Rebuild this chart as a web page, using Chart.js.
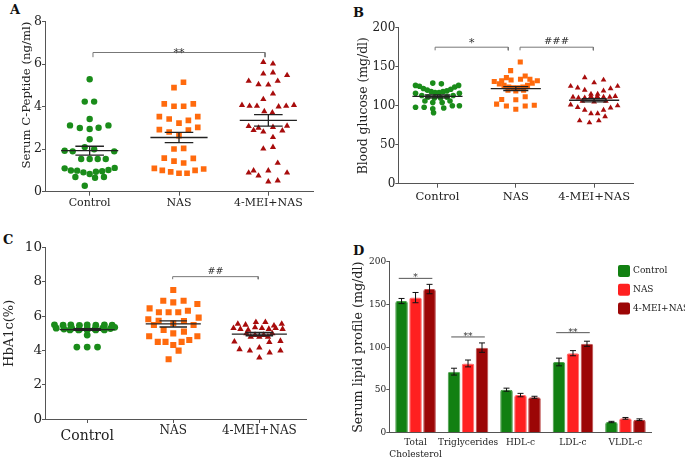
<!DOCTYPE html>
<html>
<head>
<meta charset="utf-8">
<script src="https://cdn.jsdelivr.net/npm/chart.js@4.4.1/dist/chart.umd.min.js"></script>
<style>
  body { margin: 0; background: #fff; width: 685px; height: 461px; position: relative; overflow: hidden; }
  canvas { position: absolute; }
  .tag { position: absolute; font: bold 13px 'DejaVu Serif'; line-height: 1; color: #111; }
</style>
</head>
<body>
<div class="tag" style="left:10px;top:3px">A</div>
<div class="tag" style="left:353px;top:6px">B</div>
<div class="tag" style="left:3px;top:233px">C</div>
<div class="tag" style="left:353px;top:244px">D</div>
<canvas id="pa" width="340" height="228" style="left:0;top:0"></canvas>
<canvas id="pb" width="345" height="228" style="left:340px;top:0"></canvas>
<canvas id="pc" width="340" height="233" style="left:0;top:228px"></canvas>
<canvas id="pd" width="345" height="233" style="left:340px;top:228px"></canvas>
<script>
const cats = ['Control', 'NAS', '4-MEI+NAS'];

// A - serum C-peptide (ng/ml). *Off = horizontal spread of each dot inside its group
const aCtrlOff = [0, -0.055, 0.05, 0, -0.22, -0.11, 0, 0.1, 0.21, 0, -0.055, 0.05, -0.28, -0.19, 0.275, -0.095, 0, 0.09, 0.18, -0.28, -0.21, -0.14, -0.07, 0, 0.07, 0.14, 0.21, 0.28, -0.16, 0.06, 0.16, -0.055];
const aCtrlVal = [5.29, 4.24, 4.24, 3.42, 3.12, 3.0, 2.95, 3.01, 3.12, 2.47, 2.1, 2.0, 1.93, 1.9, 1.9, 1.54, 1.54, 1.54, 1.54, 1.1, 1.0, 0.99, 0.91, 0.83, 0.94, 0.96, 1.02, 1.12, 0.69, 0.66, 0.69, 0.28];
const aNasOff = [0.05, -0.056, -0.165, -0.056, 0.052, 0.16, -0.22, -0.11, 0, 0.105, 0.21, -0.22, -0.11, 0, 0.105, 0.21, -0.056, 0.052, -0.165, -0.056, 0.052, 0.16, -0.276, -0.187, -0.093, 0, 0.09, 0.18, 0.276];
const aNasVal = [5.15, 4.9, 4.13, 4.02, 4.02, 4.13, 3.53, 3.42, 3.23, 3.36, 3.53, 2.92, 2.81, 2.64, 2.9, 3.03, 2.01, 2.04, 1.58, 1.44, 1.35, 1.57, 1.1, 1.0, 0.93, 0.87, 0.87, 1.0, 1.07];
const aMeiOff = [-0.056, 0.052, -0.056, 0.052, 0.21, -0.22, -0.11, 0, 0.105, 0.052, -0.056, -0.295, -0.21, -0.127, 0.115, 0.2, 0.287, -0.045, 0.045, -0.22, -0.165, -0.11, -0.056, 0.052, 0.157, 0.21, 0.052, -0.056, 0.052, 0.105, -0.22, -0.165, -0.11, 0, 0.21, 0, 0.105];
const aMeiVal = [6.1, 6.02, 5.55, 5.6, 5.48, 5.21, 5.05, 5.03, 5.21, 4.61, 4.35, 4.07, 4.03, 4.03, 4.0, 4.03, 4.07, 3.78, 3.72, 3.08, 2.89, 3.0, 2.82, 3.04, 2.87, 3.1, 2.56, 2.02, 2.1, 1.35, 0.89, 0.99, 0.75, 0.99, 0.89, 0.47, 0.52];
const aMean = [1.93, 2.55, 3.36];
const aSem = [0.21, 0.24, 0.27];

// B - blood glucose (mg/dl)
const bCtrlOff = [-0.06, 0.05, -0.28, -0.23, -0.18, -0.13, -0.08, -0.03, 0.02, 0.07, 0.12, 0.17, 0.22, 0.27, -0.28, -0.2, -0.12, -0.04, 0.04, 0.12, 0.2, 0.28, -0.16, -0.06, 0.06, 0.16, -0.28, -0.17, -0.06, 0.08, 0.19, 0.28, -0.05];
const bCtrlVal = [129, 128, 126, 125, 122, 120, 118, 117, 117, 118, 119, 121, 124, 126, 116, 113, 111, 110, 110, 111, 113, 116, 106, 104, 104, 106, 98, 98, 96, 97, 100, 100, 91];
const bNasOff = [0.057, -0.066, -0.12, 0.12, -0.275, -0.21, -0.15, -0.09, -0.03, 0.03, 0.09, 0.15, 0.21, 0.275, -0.18, -0.06, 0.06, 0.18, -0.1, 0, 0.1, -0.245, -0.18, -0.12, 0, 0, 0.12, 0.12, 0.236];
const bNasVal = [156, 145, 136, 138, 131, 128, 126, 124, 123, 123, 124, 126, 129, 132, 132, 133, 134, 134, 120, 119, 120, 102, 108, 99.6, 107.7, 95.4, 111.5, 99.6, 100.5];
const bMeiOff = [-0.12, 0, 0.12, -0.3, -0.21, -0.12, 0.12, 0.21, 0.3, -0.04, 0.045, -0.27, -0.2, -0.12, -0.04, 0.04, 0.12, 0.2, 0.27, -0.15, 0, 0.15, -0.3, -0.21, -0.12, 0.12, 0.21, 0.3, -0.04, 0.045, 0.14, -0.185, -0.06, 0.06];
const bMeiVal = [136, 129.5, 133, 125, 123, 120, 119, 122, 125, 115, 115, 111, 110, 110, 112, 112, 111, 111, 112, 106, 105, 106, 101, 98, 94.5, 94.5, 97.4, 100, 90, 90, 86, 80.8, 78.2, 80.8];
const bMean = [112, 122, 107];
const bSem = [2, 2.5, 2];

// C - HbA1c (%)
const cCtrlOff = [-0.38, -0.28, -0.19, -0.09, 0, 0.1, 0.2, 0.29, -0.36, -0.27, -0.18, -0.09, 0, 0.09, 0.18, 0.27, 0.32, -0.2, -0.1, 0, 0.1, 0.2, 0, -0.12, 0, 0.12];
const cCtrlVal = [5.5, 5.48, 5.5, 5.47, 5.5, 5.48, 5.5, 5.48, 5.3, 5.25, 5.3, 5.22, 5.3, 5.25, 5.3, 5.28, 5.35, 5.2, 5.2, 5.2, 5.2, 5.2, 4.9, 4.2, 4.2, 4.2];
const cNasOff = [0, -0.116, 0, 0.12, 0.28, -0.275, -0.167, -0.054, 0.058, 0.17, 0.295, -0.29, -0.225, -0.17, 0, 0.124, 0.236, -0.112, 0, 0.124, -0.28, 0.28, -0.18, -0.09, 0.186, 0, 0.097, 0.062, -0.054];
const cNasVal = [7.53, 6.9, 6.81, 6.9, 6.71, 6.46, 6.23, 6.23, 6.23, 6.32, 5.92, 5.82, 5.49, 5.74, 5.59, 5.72, 5.49, 5.2, 5.0, 5.1, 4.83, 4.83, 4.5, 4.5, 4.61, 4.32, 4.5, 3.99, 3.49];
const cMeiOff = [-0.25, -0.16, -0.04, 0.07, 0.17, 0.26, -0.3, -0.22, -0.13, -0.05, 0.03, 0.11, 0.19, 0.27, -0.15, -0.05, 0.05, 0.15, -0.1, 0, 0.1, -0.29, -0.23, -0.11, 0, 0.116, 0.12, 0.245, 0.245, 0];
const cMeiVal = [5.55, 5.5, 5.65, 5.65, 5.45, 5.55, 5.3, 5.25, 5.2, 5.35, 5.3, 5.25, 5.3, 5.25, 5.0, 4.9, 4.9, 5.0, 4.8, 4.8, 4.8, 4.51, 4.07, 3.99, 4.16, 4.48, 3.87, 4.55, 3.99, 3.58];
const cMean = [5.22, 5.55, 4.96];
const cSem = [0.05, 0.18, 0.1];

// D - serum lipid profile (mg/dl), mean and error
const lipidCats = [['Total', 'Cholesterol'], 'Triglycerides', 'HDL-c', 'LDL-c', 'VLDL-c'];
const dCtrl = [154, 71.4, 50.3, 82.7, 12.5];
const dCtrlErr = [3, 4, 1.8, 4.5, 0.8];
const dNas = [158, 81, 44, 93, 16.8];
const dNasErr = [6, 4, 2, 3, 1];
const dMei = [168, 99.5, 41.4, 104, 15.2];
const dMeiErr = [5.5, 5.5, 1.2, 3, 1];
const dSigCat = [0, 1, 3];
const dSigY = [180.5, 112, 117];
const dSigText = ['*', '**', '**'];

Chart.defaults.font.family = "'DejaVu Serif', serif";
Chart.defaults.color = '#222';
Chart.defaults.animation = false;

const green = '#1a8c1a', orange = '#ff6a0d', darkRed = '#a80c0c';

function dots(idx, offs, vals) {
    return vals.map((v, k) => ({ x: idx + offs[k], y: v }));
}

// mean line, two SEM caps and the joining stem for every group
function meanSem(means, sems) {
    const d = [];
    means.forEach((m, i) => {
        const s = sems[i];
        d.push({ x: i - 0.32, y: m }, { x: i + 0.32, y: m }, { x: i, y: null },
               { x: i - 0.16, y: m + s }, { x: i + 0.16, y: m + s }, { x: i, y: null },
               { x: i - 0.16, y: m - s }, { x: i + 0.16, y: m - s }, { x: i, y: null },
               { x: i, y: m - s }, { x: i, y: m + s }, { x: i, y: null });
    });
    return d;
}

function bracket(b) {
    return [{ x: b.x1, y: b.y - b.drop }, { x: b.x1, y: b.y }, { x: b.x2, y: b.y }, { x: b.x2, y: b.y - b.drop }];
}

// significance marks over the brackets / lines
const sigText = {
    id: 'sigText',
    afterDatasetsDraw(chart, args, opts) {
        const { ctx, scales: { x, y } } = chart;
        ctx.save();
        ctx.fillStyle = '#333';
        ctx.textAlign = 'center';
        ctx.textBaseline = 'alphabetic';
        (opts.items || []).forEach(it => {
            ctx.font = it.size + "px 'DejaVu Serif'";
            ctx.fillText(it.text, x.getPixelForValue(it.x), y.getPixelForValue(it.y) + it.dy);
        });
        ctx.restore();
    }
};

function scatterPanel(id, p) {
    const datasets = [
        { data: meanSem(p.means, p.sems), showLine: true, pointRadius: 0, borderColor: '#222', borderWidth: 1.3, order: 0 }
    ];
    p.brackets.forEach(b => datasets.push({ data: bracket(b), showLine: true, pointRadius: 0, borderColor: '#777', borderWidth: 1, order: 0 }));
    p.groups.forEach((g, i) => datasets.push({
        data: dots(i, g.off, g.val), pointStyle: g.style, pointRadius: g.r,
        backgroundColor: g.color, borderColor: g.color, pointBorderWidth: 0, order: 1
    }));

    new Chart(document.getElementById(id), {
        type: 'scatter',
        data: { datasets },
        plugins: [sigText],
        options: {
            responsive: false,
            events: [],
            layout: { padding: { left: 0, top: p.top, right: p.right, bottom: 0 } },
            plugins: {
                legend: { display: false },
                tooltip: { enabled: false },
                sigText: { items: p.sig }
            },
            scales: {
                x: {
                    type: 'linear', min: p.xmin, max: p.xmax,
                    afterBuildTicks: s => { s.ticks = cats.map((c, i) => ({ value: i })); },
                    afterFit: s => { s.height = p.xh; },
                    ticks: { callback: v => cats[v], autoSkip: false, maxRotation: 0, padding: p.xpad, font: p.xfont, color: '#222' },
                    grid: { drawOnChartArea: false, tickLength: 4, color: '#555' },
                    border: { color: '#555' }
                },
                y: {
                    min: p.ymin, max: p.ymax,
                    afterFit: s => { s.width = p.yw; },
                    ticks: { stepSize: p.step, padding: 0, font: { size: p.ytick }, color: '#222' },
                    grid: { drawOnChartArea: false, tickLength: 3, color: '#555' },
                    border: { color: '#555' },
                    title: { display: true, text: p.title, align: p.talign, font: { size: p.tsize }, padding: { top: p.tpad, bottom: 0 }, color: '#222' }
                }
            }
        }
    });
}

scatterPanel('pa', {
    groups: [
        { off: aCtrlOff, val: aCtrlVal, style: 'circle', r: 3.2, color: green },
        { off: aNasOff, val: aNasVal, style: 'rect', r: 4, color: orange },
        { off: aMeiOff, val: aMeiVal, style: 'triangle', r: 3.6, color: darkRed }
    ],
    means: aMean, sems: aSem,
    brackets: [{ x1: 0.037, x2: 1.963, y: 6.55, drop: 0.22 }],
    sig: [{ x: 1.0, y: 6.55, text: '**', size: 11, dy: 3 }],
    xmin: -0.5, xmax: 2.5, ymin: 0, ymax: 8, step: 2,
    top: 21.7, right: 27, yw: 45, xh: 36.3, xpad: 1,
    xfont: { size: 11 }, ytick: 12.5,
    title: 'Serum C-Peptide (ng/ml)', talign: 'end', tsize: 11.7, tpad: 19.5
});

scatterPanel('pb', {
    groups: [
        { off: bCtrlOff, val: bCtrlVal, style: 'circle', r: 2.8, color: green },
        { off: bNasOff, val: bNasVal, style: 'rect', r: 3.6, color: orange },
        { off: bMeiOff, val: bMeiVal, style: 'triangle', r: 3.3, color: darkRed }
    ],
    means: bMean, sems: bSem,
    brackets: [{ x1: -0.03, x2: 0.904, y: 175, drop: 4 }, { x1: 1.054, x2: 1.99, y: 175, drop: 4 }],
    sig: [{ x: 0.437, y: 175, text: '*', size: 11, dy: -1 }, { x: 1.52, y: 175, text: '###', size: 10, dy: -3 }],
    xmin: -0.5, xmax: 2.5, ymin: 0, ymax: 200, step: 50,
    top: 27.7, right: 51.7, yw: 58.3, xh: 44.3, xpad: 2,
    xfont: { size: 11.5 }, ytick: 12,
    title: 'Blood glucose (mg/dl)', talign: 'center', tsize: 12.4, tpad: 16.5
});

scatterPanel('pc', {
    groups: [
        { off: cCtrlOff, val: cCtrlVal, style: 'circle', r: 3.4, color: green },
        { off: cNasOff, val: cNasVal, style: 'rect', r: 4.3, color: orange },
        { off: cMeiOff, val: cMeiVal, style: 'triangle', r: 3.7, color: darkRed }
    ],
    means: cMean, sems: cSem,
    brackets: [{ x1: 0.993, x2: 1.987, y: 8.31, drop: 0.15 }],
    sig: [{ x: 1.49, y: 8.31, text: '##', size: 9.5, dy: -3 }],
    xmin: -0.49, xmax: 2.55, ymin: 0, ymax: 10, step: 2,
    top: 19.7, right: 33.3, yw: 45, xh: 42, xpad: 1,
    xfont: ctx => ctx.index === 0 ? { size: 14, lineHeight: 1.7 } : { size: 12, lineHeight: 1.2 },
    ytick: 13.5,
    title: 'HbA1c(%)', talign: 'center', tsize: 13, tpad: 1.4
});

// D - grouped bars with error bars
const errBars = {
    id: 'errBars',
    afterDatasetsDraw(chart) {
        const { ctx, scales: { y } } = chart;
        ctx.save();
        ctx.strokeStyle = '#111';
        ctx.lineWidth = 1;
        chart.data.datasets.forEach((ds, di) => {
            chart.getDatasetMeta(di).data.forEach((bar, k) => {
                const top = y.getPixelForValue(ds.data[k] + ds.errs[k]);
                const bot = y.getPixelForValue(ds.data[k] - ds.errs[k]);
                ctx.beginPath();
                ctx.moveTo(bar.x, top); ctx.lineTo(bar.x, bot);
                ctx.moveTo(bar.x - 3, top); ctx.lineTo(bar.x + 3, top);
                ctx.moveTo(bar.x - 3, bot); ctx.lineTo(bar.x + 3, bot);
                ctx.stroke();
            });
        });
        ctx.restore();
    }
};

const sigLines = {
    id: 'sigLines',
    afterDatasetsDraw(chart) {
        const { ctx, scales: { x, y } } = chart;
        const w = x.getPixelForValue(1) - x.getPixelForValue(0);
        ctx.save();
        ctx.strokeStyle = '#555';
        ctx.lineWidth = 1;
        ctx.fillStyle = '#333';
        ctx.textAlign = 'center';
        ctx.font = "9px 'DejaVu Serif'";
        dSigCat.forEach((c, i) => {
            const cx = x.getPixelForValue(c), py = y.getPixelForValue(dSigY[i]);
            ctx.beginPath();
            ctx.moveTo(cx - 0.32 * w, py); ctx.lineTo(cx + 0.32 * w, py);
            ctx.stroke();
            ctx.fillText(dSigText[i], cx, py + 2);
        });
        ctx.restore();
    }
};

const lipidLegend = {
    id: 'lipidLegend',
    afterDraw(chart) {
        const { ctx } = chart;
        ctx.save();
        ctx.font = "9px 'DejaVu Serif'";
        ctx.textBaseline = 'middle';
        chart.data.datasets.forEach((ds, i) => {
            const top = 37 + i * 18.7;
            ctx.fillStyle = ds.backgroundColor;
            ctx.beginPath();
            ctx.roundRect(278, top, 12, 12, 2);
            ctx.fill();
            ctx.fillStyle = '#222';
            ctx.fillText(ds.label, 293, top + 6);
        });
        ctx.restore();
    }
};

new Chart(document.getElementById('pd'), {
    type: 'bar',
    data: {
        labels: lipidCats,
        datasets: [
            { label: 'Control', data: dCtrl, errs: dCtrlErr, backgroundColor: '#128012', borderColor: '#4a9e4a' },
            { label: 'NAS', data: dNas, errs: dNasErr, backgroundColor: '#ff2020', borderColor: '#ff6a6a' },
            { label: '4-MEI+NAS', data: dMei, errs: dMeiErr, backgroundColor: '#9c0606', borderColor: '#bb4a4a' }
        ]
    },
    plugins: [errBars, sigLines, lipidLegend],
    options: {
        responsive: false,
        events: [],
        datasets: { bar: { categoryPercentage: 0.8, barPercentage: 0.9, borderWidth: 1, borderRadius: 2 } },
        layout: { padding: { left: 0, top: 33.7, right: 33.3, bottom: 0 } },
        plugins: { legend: { display: false }, tooltip: { enabled: false } },
        scales: {
            x: {
                afterFit: s => { s.height = 28.3; },
                ticks: { autoSkip: false, maxRotation: 0, padding: 4.5, font: { size: 9, lineHeight: 1.3 }, color: '#222' },
                grid: { display: false, drawTicks: false },
                border: { color: '#555' }
            },
            y: {
                min: 0, max: 200,
                afterFit: s => { s.width = 49.3; },
                ticks: { stepSize: 50, padding: 0, font: { size: 9 }, color: '#222' },
                grid: { drawOnChartArea: false, tickLength: 3, color: '#555' },
                border: { color: '#555' },
                title: { display: true, text: 'Serum lipid profile (mg/dl)', font: { size: 12.7 }, padding: { top: 11.4, bottom: 0 }, color: '#222' }
            }
        }
    }
});
</script>
</body>
</html>
